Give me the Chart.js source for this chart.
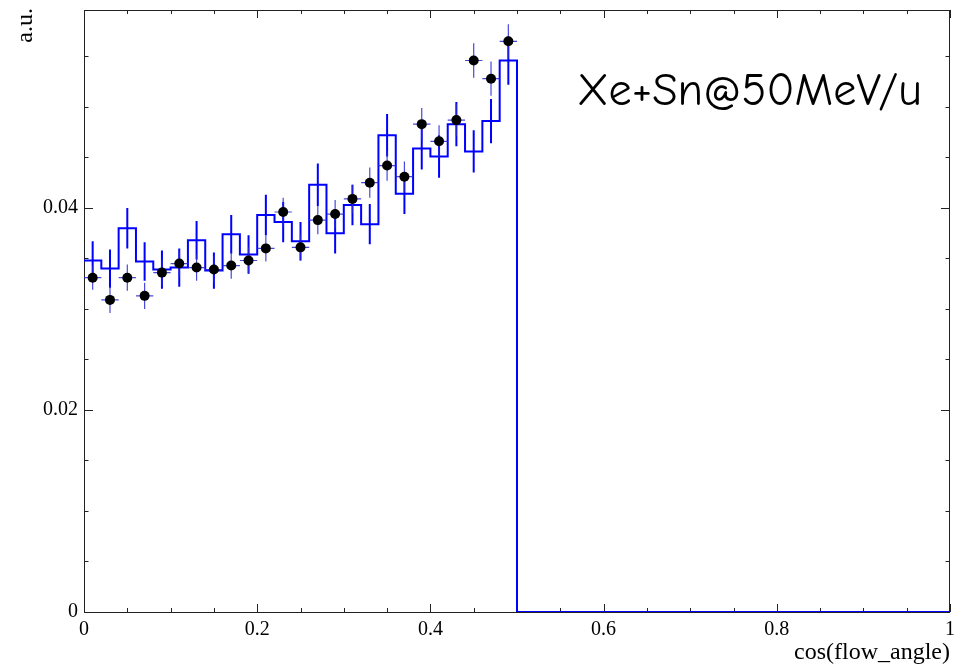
<!DOCTYPE html>
<html>
<head>
<meta charset="utf-8">
<script src="https://cdn.jsdelivr.net/npm/chart.js@4.4.1/dist/chart.umd.min.js"></script>
<style>
  html, body { margin: 0; padding: 0; background: #fff; }
  #wrap { width: 963px; height: 665px; }
</style>
</head>
<body>
<div id="wrap"><canvas id="flowChart" width="963" height="665"></canvas></div>
<script>
// bin centres of cos(flow_angle), 0.02 wide
const binCenters = [0.01, 0.03, 0.05, 0.07, 0.09, 0.11, 0.13, 0.15, 0.17, 0.19,
                    0.21, 0.23, 0.25, 0.27, 0.29, 0.31, 0.33, 0.35, 0.37, 0.39,
                    0.41, 0.43, 0.45, 0.47, 0.49];
const binWidth = 0.02;

// blue histogram
const histValues = [0.0348, 0.0340, 0.0380, 0.0347, 0.0339, 0.0341, 0.0368, 0.0338, 0.0374, 0.0354,
                    0.0393, 0.0386, 0.0367, 0.0423, 0.0375, 0.0403, 0.0384, 0.0472, 0.0414, 0.0459,
                    0.0451, 0.0483, 0.0456, 0.0486, 0.0546];
const histErrors = [0.0019, 0.0019, 0.0020, 0.0019, 0.0019, 0.0019, 0.0019, 0.0018, 0.0019, 0.0019,
                    0.0020, 0.0020, 0.0019, 0.0021, 0.0020, 0.0020, 0.0020, 0.0021, 0.0020, 0.0021,
                    0.0021, 0.0022, 0.0021, 0.0022, 0.0024];

// black data points
const dataValues = [0.0331, 0.0309, 0.0331, 0.0313, 0.0336, 0.0345, 0.0341, 0.0339, 0.0343, 0.0348,
                    0.0360, 0.0396, 0.0361, 0.0388, 0.0394, 0.0409, 0.0425, 0.0442, 0.0431, 0.0483,
                    0.0466, 0.0487, 0.0546, 0.0528, 0.0565];
const dataErrors = [0.0012, 0.0013, 0.0013, 0.0013, 0.0013, 0.0013, 0.0013, 0.0013, 0.0013, 0.0013,
                    0.0013, 0.0014, 0.0013, 0.0014, 0.0014, 0.0014, 0.0015, 0.0015, 0.0015, 0.0016,
                    0.0016, 0.0016, 0.0017, 0.0017, 0.0017];

const xTicks = [0, 0.2, 0.4, 0.6, 0.8, 1];
const yTicks = [0, 0.02, 0.04];
const xRange = [0, 1];
const yRange = [0, 0.0596];

const serif = '"Liberation Serif", "DejaVu Serif", serif';

// histogram outline: each bin starts at its low edge, then drops to zero at the end
const histStep = binCenters.map((c, i) => ({ x: c - binWidth / 2, y: histValues[i] }));
const lastEdge = binCenters[binCenters.length - 1] + binWidth / 2;
histStep.push({ x: lastEdge, y: 0 });
histStep.push({ x: xRange[1], y: 0 });

const histErrBars = [];
binCenters.forEach((c, i) => {
    histErrBars.push({ x: c, y: histValues[i] - histErrors[i] });
    histErrBars.push({ x: c, y: histValues[i] + histErrors[i] });
    histErrBars.push({ x: c, y: null });
});

const dataErrBars = [];
binCenters.forEach((c, i) => {
    dataErrBars.push({ x: c, y: dataValues[i] - dataErrors[i] });
    dataErrBars.push({ x: c, y: dataValues[i] + dataErrors[i] });
    dataErrBars.push({ x: c, y: null });
    dataErrBars.push({ x: c - binWidth / 2, y: dataValues[i] });
    dataErrBars.push({ x: c + binWidth / 2, y: dataValues[i] });
    dataErrBars.push({ x: c, y: null });
});

const dataPoints = binCenters.map((c, i) => ({ x: c, y: dataValues[i] }));

// ROOT-like frame with inward ticks on all four sides
const rootFrame = {
    id: 'rootFrame',
    beforeDatasetsDraw(chart) {
        const { ctx, chartArea: a, scales: { x, y } } = chart;
        ctx.save();
        ctx.strokeStyle = '#222';
        ctx.lineWidth = 1;
        ctx.strokeRect(a.left + 0.5, a.top + 0.5, a.right - a.left - 1, a.bottom - a.top);
        ctx.beginPath();
        for (let i = 0; i <= 20; i++) {
            const px = Math.round(x.getPixelForValue(i * 0.05)) + 0.5;
            const len = i % 4 === 0 ? 8 : 4;
            ctx.moveTo(px, a.bottom);
            ctx.lineTo(px, a.bottom - len);
            ctx.moveTo(px, a.top);
            ctx.lineTo(px, a.top + len);
        }
        for (let i = 0; i * 0.005 <= yRange[1]; i++) {
            const py = Math.round(y.getPixelForValue(i * 0.005)) + 0.5;
            const len = i % 4 === 0 ? 9 : 4.5;
            ctx.moveTo(a.left, py);
            ctx.lineTo(a.left + len, py);
            ctx.moveTo(a.right, py);
            ctx.lineTo(a.right - len, py);
        }
        ctx.stroke();
        ctx.restore();
    },
    afterDraw(chart) {
        const { ctx, chartArea: a } = chart;
        ctx.save();
        ctx.fillStyle = '#000';
        ctx.font = '24px ' + serif;
        ctx.textAlign = 'right';
        ctx.textBaseline = 'alphabetic';
        ctx.fillText('cos(flow_angle)', a.right, 659);

        ctx.translate(32, a.top - 2);
        ctx.rotate(-Math.PI / 2);
        ctx.fillText('a.u.', 0, 0);
        ctx.restore();

        ctx.save();
        ctx.fillStyle = '#000';
        let size = 48;
        const label = 'Xe+Sn@50MeV/u';
        const fam = '"Comic Sans MS", "Comic Neue", "Open Sans", sans-serif';
        ctx.font = size + 'px ' + fam;
        const w = ctx.measureText(label).width;
        if (w > 345) { size = size * 345 / w; ctx.font = size + 'px ' + fam; }
        ctx.textAlign = 'left';
        ctx.textBaseline = 'alphabetic';
        ctx.fillText(label, 577, 105);
        ctx.restore();
    }
};

const plainNumber = v => String(Number(v.toFixed(4)));

new Chart(document.getElementById('flowChart'), {
    type: 'scatter',
    data: {
        datasets: [
            {
                label: 'data',
                data: dataPoints,
                pointRadius: 5,
                pointBackgroundColor: '#000',
                pointBorderColor: '#000',
                pointBorderWidth: 0,
                showLine: false
            },
            {
                label: 'data errors',
                type: 'line',
                data: dataErrBars,
                borderColor: 'rgba(40, 40, 215, 0.85)',
                borderWidth: 1.2,
                pointRadius: 0,
                spanGaps: false,
                fill: false
            },
            {
                label: 'hist errors',
                type: 'line',
                data: histErrBars,
                borderColor: '#0000ff',
                borderWidth: 2,
                pointRadius: 0,
                spanGaps: false,
                fill: false
            },
            {
                label: 'hist',
                type: 'line',
                data: histStep,
                stepped: 'before',
                borderColor: '#0000ff',
                borderWidth: 2,
                pointRadius: 0,
                fill: false
            }
        ]
    },
    options: {
        responsive: false,
        animation: false,
        layout: { padding: { top: 10, right: 13, left: 0, bottom: 0 } },
        scales: {
            x: {
                type: 'linear',
                min: xRange[0],
                max: xRange[1],
                afterBuildTicks: s => { s.ticks = xTicks.map(v => ({ value: v })); },
                afterFit: s => { s.height = 53; s.paddingLeft = 0; s.paddingRight = 0; },
                grid: { display: false, drawTicks: false },
                border: { display: false },
                ticks: {
                    color: '#000',
                    padding: 6,
                    maxRotation: 0,
                    callback: plainNumber,
                    font: { family: serif, size: 20 }
                }
            },
            y: {
                type: 'linear',
                min: yRange[0],
                max: yRange[1],
                afterBuildTicks: s => { s.ticks = yTicks.map(v => ({ value: v })); },
                afterFit: s => { s.width = 84; s.paddingTop = 0; s.paddingBottom = 0; },
                grid: { display: false, drawTicks: false },
                border: { display: false },
                ticks: {
                    color: '#000',
                    padding: 6,
                    callback: plainNumber,
                    font: { family: serif, size: 20 }
                }
            }
        },
        plugins: {
            legend: { display: false },
            tooltip: { enabled: false }
        }
    },
    plugins: [rootFrame]
});
</script>
</body>
</html>
